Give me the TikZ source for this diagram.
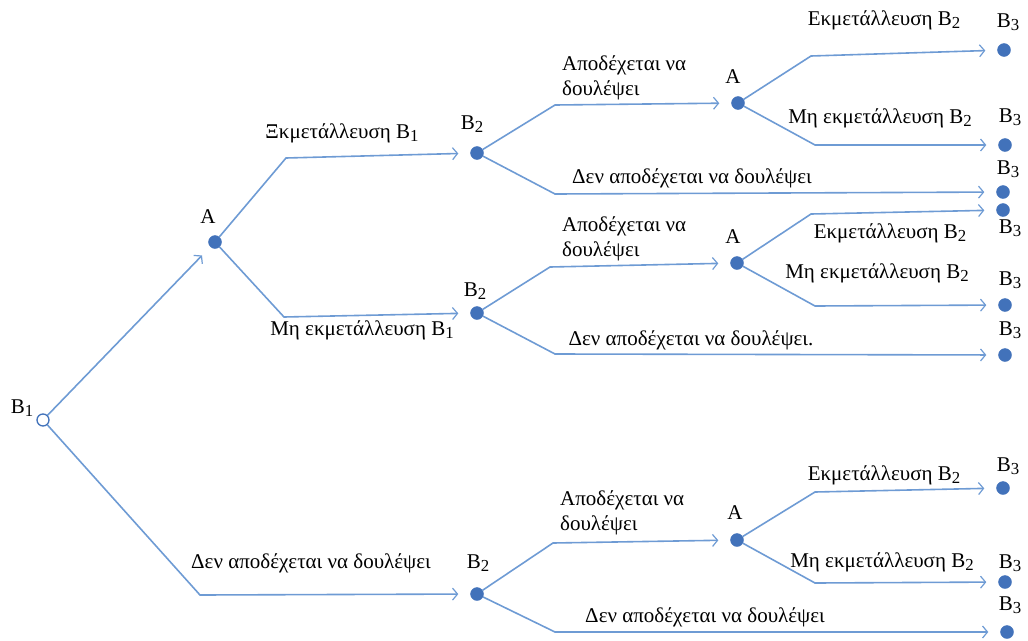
\documentclass[tikz,border=0pt]{standalone}
\usepackage{fontspec}
\setmainfont{Liberation Serif}
\usepackage{graphicx}
\usetikzlibrary{arrows.meta}
\definecolor{linecol}{RGB}{110,155,212}
\definecolor{dotcol}{RGB}{66,114,186}
\newcommand\Bs[1]{B\raisebox{-0.35ex}{\scalebox{0.8}{#1}}}
\begin{document}
\begin{tikzpicture}[x=1pt,y=-1pt,
  font=\fontsize{21}{25}\selectfont,
  dot/.style={circle,fill=dotcol,draw=dotcol,minimum size=13pt,inner sep=0pt},
  odot/.style={circle,fill=white,draw=dotcol,line width=1.3pt,minimum size=12pt,inner sep=0pt},
  conn/.style={draw=linecol,line width=1.6pt,-{Straight Barb[length=5pt,width=12pt,line width=1.2pt]},shorten >=12pt},
  lbl/.style={inner sep=0pt,text=black}]
\useasboundingbox (0,0) rectangle (1028,640);
% dots
\node[odot] (B1) at (43,420) {};
\node[dot] (A1) at (215,242) {};
\node[dot] (B2a) at (477,153) {};
\node[dot] (B2b) at (477,313) {};
\node[dot] (B2c) at (477,594) {};
\node[dot] (Aa) at (738,103) {};
\node[dot] (Ab) at (737,263) {};
\node[dot] (Ac) at (737,540) {};
\node[dot] (B3a) at (1004,50) {};
\node[dot] (B3b) at (1005,145) {};
\node[dot] (B3c) at (1003,192) {};
\node[dot] (B3d) at (1003,210) {};
\node[dot] (B3e) at (1005,305) {};
\node[dot] (B3f) at (1005,355) {};
\node[dot] (B3g) at (1003,488) {};
\node[dot] (B3h) at (1005,582) {};
\node[dot] (B3i) at (1007,632) {};
% connectors
\draw[conn] (B1) -- (A1);
\draw[conn] (A1) -- (286,158) -- (B2a);
\draw[conn] (A1) -- (284,317) -- (B2b);
\draw[conn] (B1) -- (200,595) -- (B2c);
\draw[conn] (B2a) -- (555,105) -- (Aa);
\draw[conn] (B2a) -- (555,194) -- (B3c);
\draw[conn] (Aa) -- (811,56) -- (B3a);
\draw[conn] (Aa) -- (815,145) -- (B3b);
\draw[conn] (B2b) -- (550,267) -- (Ab);
\draw[conn] (B2b) -- (555,354) -- (B3f);
\draw[conn] (Ab) -- (811,214) -- (B3d);
\draw[conn] (Ab) -- (815,306) -- (B3e);
\draw[conn] (B2c) -- (553,543) -- (Ac);
\draw[conn] (B2c) -- (555,632) -- (B3i);
\draw[conn] (Ac) -- (815,492) -- (B3g);
\draw[conn] (Ac) -- (815,583) -- (B3h);
% node labels
\node[lbl] (lB1) at (22,408) {\Bs{1}};
\node[lbl] (lA1) at (208,217) {A};
\node[lbl] (lB2a) at (472,124) {\Bs{2}};
\node[lbl] (lB2b) at (475,291) {\Bs{2}};
\node[lbl] (lB2c) at (478,563) {\Bs{2}};
\node[lbl] (lAa) at (733,77) {A};
\node[lbl] (lAb) at (733,237) {A};
\node[lbl] (lAc) at (735,513) {A};
\node[lbl] (lB3a) at (1008,22) {\Bs{3}};
\node[lbl] (lB3b) at (1010,117) {\Bs{3}};
\node[lbl] (lB3c) at (1008,169) {\Bs{3}};
\node[lbl] (lB3d) at (1010,228) {\Bs{3}};
\node[lbl] (lB3e) at (1010,280) {\Bs{3}};
\node[lbl] (lB3f) at (1010,330) {\Bs{3}};
\node[lbl] (lB3g) at (1008,466) {\Bs{3}};
\node[lbl] (lB3h) at (1010,563) {\Bs{3}};
\node[lbl] (lB3i) at (1010,605) {\Bs{3}};
% edge labels
\node[lbl] (t1) at (342,133) {Ξκμετάλλευση \Bs{1}};
\node[lbl] (t2) at (362,330) {Μη εκμετάλλευση \Bs{1}};
\node[lbl] (t3) at (311,563) {Δεν αποδέχεται να δουλέψει};
\node[lbl,anchor=west,align=left] (t4) at (562,78) {Αποδέχεται να\\δουλέψει};
\node[lbl] (t5) at (692,178) {Δεν αποδέχεται να δουλέψει};
\node[lbl] (t6) at (884,20) {Εκμετάλλευση \Bs{2}};
\node[lbl] (t7) at (880,118) {Μη εκμετάλλευση \Bs{2}};
\node[lbl,anchor=west,align=left] (t8) at (562,239) {Αποδέχεται να\\δουλέψει};
\node[lbl] (t9) at (691,340) {Δεν αποδέχεται να δουλέψει.};
\node[lbl] (t10) at (890,233) {Εκμετάλλευση \Bs{2}};
\node[lbl] (t11) at (877,273) {Μη εκμετάλλευση \Bs{2}};
\node[lbl,anchor=west,align=left] (t12) at (560,513) {Αποδέχεται να\\δουλέψει};
\node[lbl] (t13) at (705,617) {Δεν αποδέχεται να δουλέψει};
\node[lbl] (t14) at (884,475) {Εκμετάλλευση \Bs{2}};
\node[lbl] (t15) at (882,562) {Μη εκμετάλλευση \Bs{2}};
\end{tikzpicture}
\end{document}
